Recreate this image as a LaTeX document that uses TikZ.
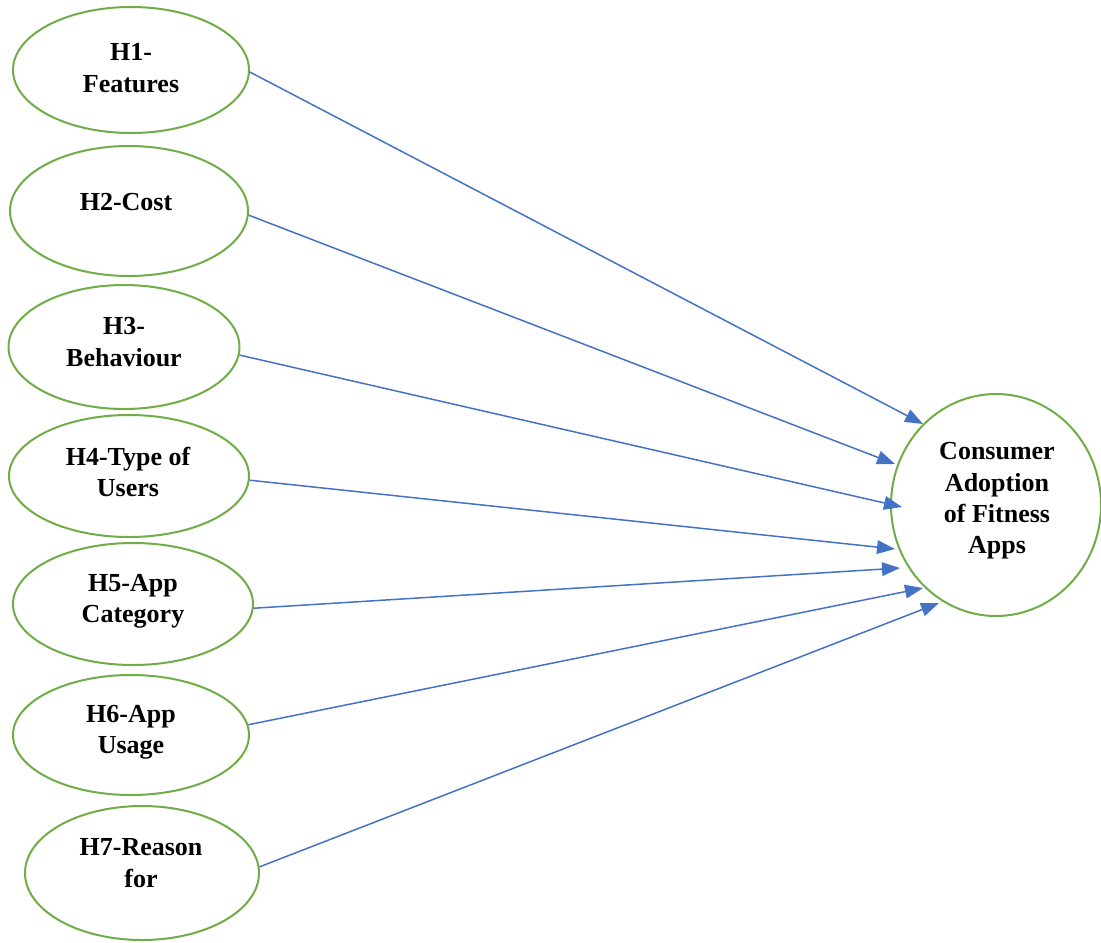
\documentclass[tikz,border=0pt]{standalone}
\usepackage{fontspec}
\setmainfont{Liberation Serif}
\usetikzlibrary{shapes.geometric,arrows.meta}
\definecolor{ovalgreen}{RGB}{112,173,71}
\definecolor{arrowblue}{RGB}{68,114,196}
\tikzset{
  oval/.style={ellipse, draw=ovalgreen, line width=1pt, inner sep=0pt, fill=white},
  lbl/.style={align=center, font=\fontsize{13}{15.7}\selectfont\bfseries, inner sep=0pt},
  link/.style={draw=arrowblue, line width=0.75pt, -{Triangle[length=9pt,width=6.8pt]}}
}
\begin{document}
\begin{tikzpicture}[x=0.5pt,y=-0.5pt]
\useasboundingbox (0,0) rectangle (1101,942);
% ovals
\node[oval, minimum width=118pt, minimum height=63pt] (h1) at (131,70) {};
\node[oval, minimum width=119pt, minimum height=65pt] (h2) at (129,211) {};
\node[oval, minimum width=115.5pt, minimum height=62pt] (h3) at (124,347) {};
\node[oval, minimum width=120pt, minimum height=61pt] (h4) at (129,476) {};
\node[oval, minimum width=120pt, minimum height=61pt] (h5) at (133,604) {};
\node[oval, minimum width=118pt, minimum height=60pt] (h6) at (131,735) {};
\node[oval, minimum width=117pt, minimum height=67pt] (h7) at (142,873) {};
\node[oval, minimum width=105pt, minimum height=111pt] (c) at (996,505) {};
% labels
\node[lbl] (h1t) at (131,68) {H1-\\Features};
\node[lbl] (h2t) at (126,202) {H2-Cost};
\node[lbl] (h3t) at (124,342) {H3-\\Behaviour};
\node[lbl] (h4t) at (128,472) {H4-Type of\\Users};
\node[lbl] (h5t) at (133,601) {H5-App\\Category};
\node[lbl] (h6t) at (131,732) {H6-App\\Usage};
\node[lbl] (h7t) at (141,863) {H7-Reason\\for};
\node[lbl] (ct) at (997,501) {Consumer\\Adoption\\of Fitness\\Apps};
% arrow tips
\coordinate (t1) at ([shift={(-73,-81)}]c.center);
\coordinate (t2) at ([shift={(-101,-41)}]c.center);
\coordinate (t3) at ([shift={(-94,2)}]c.center);
\coordinate (t4) at ([shift={(-101,44)}]c.center);
\coordinate (t5) at ([shift={(-96,63)}]c.center);
\coordinate (t6) at ([shift={(-73,83)}]c.center);
\coordinate (t7) at ([shift={(-57,98)}]c.center);
% connectors
\draw[link] (h1.-1) -- (t1);
\draw[link] (h2.-2) -- (t2);
\draw[link] (h3.-4.5) -- (t3);
\draw[link] (h4.-2) -- (t4);
\draw[link] (h5.-2) -- (t5);
\draw[link] (h6.5) -- (t6);
\draw[link] (h7.3.5) -- (t7);
\end{tikzpicture}
\end{document}
